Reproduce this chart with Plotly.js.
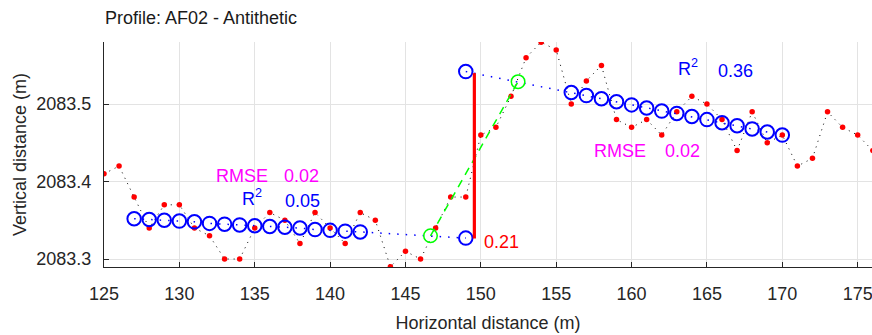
<!DOCTYPE html>
<html>
<head>
<meta charset="utf-8">
<script src="https://cdn.plot.ly/plotly-3.0.1.min.js"></script>
<style>html,body{margin:0;padding:0;background:#fff;}#chart{width:872px;height:335px;}</style>
</head>
<body>
<div id="chart"></div>
<script>
// Profile points (horizontal distance, elevation)
const profileX = [125,126,127,128,129,130,131,132,133,134,135,136,137,138,139,140,141,142,143,144,145,146,147,148,149,150,151,152,153,154,155,156,157,158,159,160,161,162,163,164,165,166,167,168,169,170,171,172,173,174,175,176];
const profileZ = [2083.41,2083.42,2083.38,2083.34,2083.37,2083.37,2083.34,2083.33,2083.30,2083.30,2083.34,2083.36,2083.35,2083.32,2083.36,2083.34,2083.32,2083.36,2083.35,2083.29,2083.31,2083.30,2083.34,2083.38,2083.38,2083.46,2083.47,2083.51,2083.56,2083.58,2083.57,2083.50,2083.53,2083.55,2083.48,2083.47,2083.48,2083.46,2083.49,2083.51,2083.50,2083.48,2083.44,2083.49,2083.45,2083.46,2083.42,2083.43,2083.49,2083.47,2083.46,2083.44];

// Lower (footwall) fit
const lowerFitX = [127,128,129,130,131,132,133,134,135,136,137,138,139,140,141,142,149];
const lowerFitZ = [2083.352,2083.351,2083.350,2083.349,2083.348,2083.346,2083.345,2083.344,2083.343,2083.342,2083.341,2083.340,2083.338,2083.337,2083.336,2083.335,2083.327];

// Upper (hanging wall) fit
const upperFitX = [149,156,157,158,159,160,161,162,163,164,165,166,167,168,169,170];
const upperFitZ = [2083.542,2083.515,2083.511,2083.507,2083.503,2083.499,2083.495,2083.491,2083.488,2083.484,2083.480,2083.476,2083.472,2083.468,2083.464,2083.460];

// Scarp fit end points
const scarpX = [146.66,152.47];
const scarpZ = [2083.330,2083.529];

// Vertical offset
const offsetX = [149.57,149.57];
const offsetZ = [2083.3265,2083.540];
const offsetLabel = "0.21";

// Statistics
const lowerStats = {rmse:"0.02", r2:"0.05"};
const upperStats = {rmse:"0.02", r2:"0.36"};

const xTicks = [125,130,135,140,145,150,155,160,165,170,175];
const yTicks = [2083.3,2083.4,2083.5];
const yTickText = ["2083.3","2083.4","2083.5"];

const FONT = "Liberation Sans, Arial, Helvetica, sans-serif";
const AX = "#262626";

const traces = [
  {x: profileX, y: profileZ, mode: "lines+markers", type: "scatter",
   line: {color: "#000000", width: 1, dash: "1px,5px"},
   marker: {color: "#ff0000", size: 5.5}},
  {x: lowerFitX, y: lowerFitZ, mode: "lines+markers", type: "scatter",
   line: {color: "#0000ff", width: 1.5, dash: "1.5px,7px"},
   marker: {symbol: "circle-open", size: 13.5, color: "#0000ff", line: {width: 2, color: "#0000ff"}}},
  {x: upperFitX, y: upperFitZ, mode: "lines+markers", type: "scatter",
   line: {color: "#0000ff", width: 1.5, dash: "1.5px,7px"},
   marker: {symbol: "circle-open", size: 13.5, color: "#0000ff", line: {width: 2, color: "#0000ff"}}},
  {x: scarpX, y: scarpZ, mode: "lines+markers", type: "scatter",
   line: {color: "#00ff00", width: 1.5, dash: "8px,6px"},
   marker: {symbol: "circle-open", size: 13.5, color: "#00ff00", line: {width: 1.5, color: "#00ff00"}}},
  {x: offsetX, y: offsetZ, mode: "lines", type: "scatter",
   line: {color: "#ff0000", width: 3.2}}
];

function ann(text, x, y, color) {
  return {text: text, x: x, y: y, xref: "x", yref: "y", xanchor: "left", yanchor: "middle",
          showarrow: false, font: {family: FONT, size: 18, color: color}};
}

const annotations = [
  ann("RMSE", 132.30, 2083.4077, "#ff00ff"),
  ann(lowerStats.rmse, 136.79, 2083.4077, "#ff00ff"),
  ann("R<sup>2</sup>", 134.02, 2083.380, "#0000ff"),
  ann(lowerStats.r2, 136.89, 2083.3755, "#0000ff"),
  ann(offsetLabel, 150.06, 2083.322, "#ff0000"),
  ann("RMSE", 157.36, 2083.440, "#ff00ff"),
  ann(upperStats.rmse, 162.09, 2083.440, "#ff00ff"),
  ann("R<sup>2</sup>", 162.97, 2083.547, "#0000ff"),
  ann(upperStats.r2, 165.59, 2083.5425, "#0000ff")
];

const layout = {
  width: 872, height: 335,
  margin: {l: 104, r: 0, t: 42, b: 68, pad: 0},
  paper_bgcolor: "#ffffff", plot_bgcolor: "#ffffff",
  showlegend: false,
  font: {family: FONT, size: 18, color: AX},
  title: {text: "Profile: AF02 - Antithetic", font: {family: FONT, size: 18, color: "#1a1a1a"},
          x: 105/872, xref: "container", xanchor: "left", y: 1 - 18/335, yref: "container", yanchor: "middle"},
  xaxis: {range: [125, 175.95], tickvals: xTicks, ticks: "inside", ticklen: 5, tickcolor: AX, tickwidth: 1,
          showline: true, linecolor: AX, linewidth: 1, showgrid: true, gridcolor: "#e3e3e3", gridwidth: 1,
          zeroline: false, tickfont: {family: FONT, size: 18, color: AX}, ticklabelstandoff: 10,
          ticklabeloverflow: "allow",
          title: {text: "Horizontal distance (m)", font: {family: FONT, size: 18, color: AX}, standoff: 13},
          automargin: false},
  yaxis: {range: [2083.2897, 2083.5802], tickvals: yTicks, ticktext: yTickText, ticks: "inside", ticklen: 5,
          tickcolor: AX, tickwidth: 1, showline: true, linecolor: AX, linewidth: 1, showgrid: true,
          gridcolor: "#e3e3e3", gridwidth: 1, zeroline: false, tickfont: {family: FONT, size: 18, color: AX},
          ticklabelstandoff: 8,
          title: {text: "Vertical distance (m)", font: {family: FONT, size: 18, color: AX}, standoff: 5},
          automargin: false},
  annotations: annotations
};

Plotly.newPlot("chart", traces, layout, {displayModeBar: false, staticPlot: true});
</script>
</body>
</html>
